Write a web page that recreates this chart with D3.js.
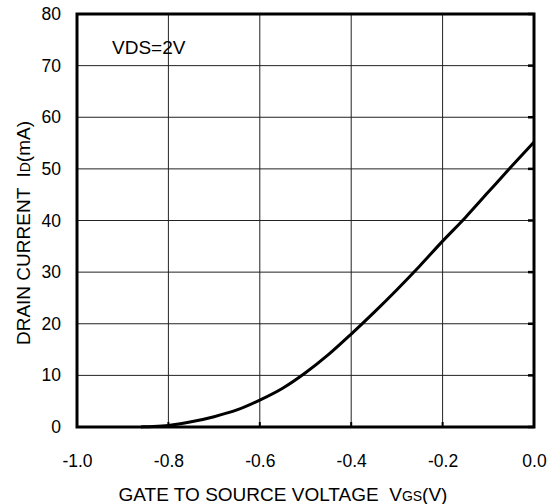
<!DOCTYPE html>
<html>
<head>
<meta charset="utf-8">
<script src="https://cdn.jsdelivr.net/npm/d3@7/dist/d3.min.js"></script>
<style>
  body { margin: 0; background: #fff; }
  text { font-family: "Liberation Sans", Arial, sans-serif; fill: #000; white-space: pre; }
</style>
</head>
<body>
<div id="chart"></div>
<script>
// data (VGS in V, ID in mA)
var vgs = [-0.86, -0.85, -0.8, -0.75, -0.7, -0.65, -0.6, -0.55, -0.5, -0.45, -0.4,
           -0.35, -0.3, -0.25, -0.2, -0.15, -0.1, -0.05, 0.0];
var idmA = [0, 0.05, 0.3, 1.0, 2.0, 3.3, 5.2, 7.5, 10.5, 14.0, 18.0,
            22.2, 26.6, 31.2, 36.0, 40.6, 45.5, 50.4, 55.2];
var xTicks = [-1.0, -0.8, -0.6, -0.4, -0.2, 0.0];
var yTicks = [0, 10, 20, 30, 40, 50, 60, 70, 80];

var W = 555, H = 504;
var margin = {top: 14, right: 21, bottom: 77, left: 77};
var w = W - margin.left - margin.right,
    h = H - margin.top - margin.bottom;

var svg = d3.select("#chart").append("svg")
  .attr("width", W).attr("height", H);

var g = svg.append("g")
  .attr("transform", "translate(" + margin.left + "," + margin.top + ")");

var x = d3.scaleLinear().domain([-1.0, 0.0]).range([0, w]);
var y = d3.scaleLinear().domain([0, 80]).range([h, 0]);

// grid
g.selectAll(".vgrid").data(xTicks).enter().append("line")
  .attr("x1", function(d){ return x(d); }).attr("x2", function(d){ return x(d); })
  .attr("y1", 0).attr("y2", h)
  .attr("stroke", "#222").attr("stroke-width", 1);
g.selectAll(".hgrid").data(yTicks).enter().append("line")
  .attr("y1", function(d){ return y(d); }).attr("y2", function(d){ return y(d); })
  .attr("x1", 0).attr("x2", w)
  .attr("stroke", "#222").attr("stroke-width", 1);

// inner ticks on the right and bottom edges
g.selectAll(".rtick").data(yTicks).enter().append("line")
  .attr("y1", function(d){ return y(d); }).attr("y2", function(d){ return y(d); })
  .attr("x1", w - 6).attr("x2", w)
  .attr("stroke", "#000").attr("stroke-width", 2.5);
g.selectAll(".btick").data(xTicks).enter().append("line")
  .attr("x1", function(d){ return x(d); }).attr("x2", function(d){ return x(d); })
  .attr("y1", h - 5).attr("y2", h)
  .attr("stroke", "#000").attr("stroke-width", 2);

// tick labels (plain hyphen minus, as in the original)
var xAxis = d3.axisBottom(x).tickValues(xTicks).tickSize(0).tickPadding(28)
  .tickFormat(function(d){ return d.toFixed(1); });
var yAxis = d3.axisLeft(y).tickValues(yTicks).tickSize(0).tickPadding(16);

g.append("g").attr("transform", "translate(0," + h + ")").call(xAxis)
  .call(function(s){ s.select(".domain").remove(); })
  .selectAll("text").style("font-size", "17.5px")
  .style("font-family", "Liberation Sans, Arial, sans-serif");
g.append("g").call(yAxis)
  .call(function(s){ s.select(".domain").remove(); })
  .selectAll("text").style("font-size", "17.5px")
  .style("font-family", "Liberation Sans, Arial, sans-serif");

// curve
var line = d3.line()
  .x(function(d, i){ return x(vgs[i]); })
  .y(function(d){ return y(d); })
  .curve(d3.curveMonotoneX);
g.append("path").datum(idmA)
  .attr("d", line)
  .attr("fill", "none").attr("stroke", "#000").attr("stroke-width", 3);

// frame
g.append("rect").attr("x", 0).attr("y", 0).attr("width", w).attr("height", h)
  .attr("fill", "none").attr("stroke", "#000").attr("stroke-width", 3);

// annotation
g.append("text").attr("x", 35).attr("y", 40)
  .style("font-size", "19px").text("VDS=2V");

// axis titles
var xt = svg.append("text").attr("x", 283).attr("y", 501)
  .attr("text-anchor", "middle").style("font-size", "19px");
xt.append("tspan").text("GATE TO SOURCE VOLTAGE  V");
xt.append("tspan").style("font-size", "14px").text("GS");
xt.append("tspan").text("(V)");

var yt = svg.append("text")
  .attr("transform", "translate(30,233) rotate(-90)")
  .attr("text-anchor", "middle").style("font-size", "19px");
yt.append("tspan").text("DRAIN CURRENT  I");
yt.append("tspan").style("font-size", "14px").text("D");
yt.append("tspan").text("(mA)");
</script>
</body>
</html>
